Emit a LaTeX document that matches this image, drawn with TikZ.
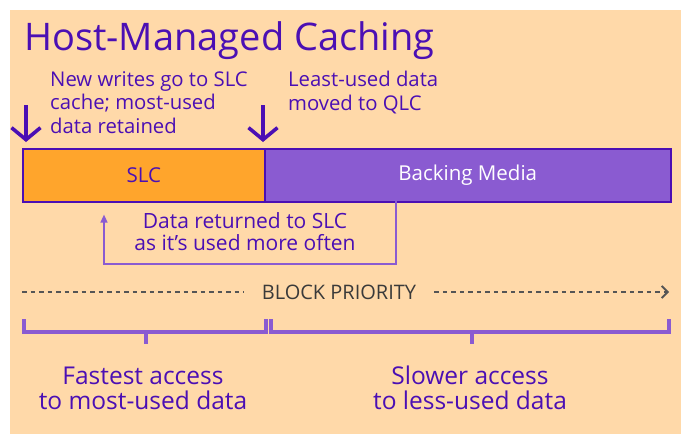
\documentclass[tikz,border=0pt]{standalone}
\usepackage{fontspec}
\setmainfont{Open Sans}
\usetikzlibrary{arrows.meta}
\definecolor{peach}{HTML}{FFD9A9}
\definecolor{indigo}{HTML}{4B0FB4}
\definecolor{lavender}{HTML}{8A5BD1}
\definecolor{amber}{HTML}{FFA52C}
\definecolor{slate}{HTML}{3A3A3A}
\definecolor{ash}{HTML}{555555}

\tikzset{
  note/.style={text=indigo, font=\fontsize{20.3}{23.5}\selectfont, align=left, inner sep=0pt, anchor=north west},
  caption/.style={text=indigo, font=\fontsize{24.5}{25}\selectfont, align=center, inner sep=0pt},
  tier/.style={draw=indigo, line width=1.6pt, minimum height=53, inner sep=0pt, anchor=north west, font=\fontsize{20.5}{22}\selectfont},
  downarrow/.style={indigo, line width=3.6pt, -{Straight Barb[length=12pt, width=29pt, line width=3.6pt]}},
  returnarrow/.style={lavender, line width=1.5pt, -{Triangle[length=8pt, width=7pt]}},
  prioline/.style={ash, line width=1.6pt, dash pattern=on 4.5pt off 4pt},
  brace/.style={lavender, line width=4.5pt, line cap=butt, line join=miter}
}

\begin{document}
\begin{tikzpicture}[x=1pt, y=-1pt]
		\useasboundingbox (0,0) rectangle (681,434);
		\fill[peach] (10,10) rectangle (681,434);
		\node[text=indigo, font=\fontsize{38}{40}\selectfont, anchor=base west, inner sep=0pt] (title) at (24,50) {Host-Managed Caching};
		% notes above the bar
		\node[note] (newwrites) at (50,71) {New writes go to SLC\\cache; most-used\\data retained};
		\node[note] (leastused) at (288,71) {Least-used data\\moved to QLC};
		% the two tiers
		\node[tier, fill=amber, text=indigo, minimum width=242] (slc) at (22,148) {SLC};
		\node[tier, fill=lavender, text=white, minimum width=406] (backing) at (264,148) {Backing Media};
		\coordinate (w1) at (26,105);
		\coordinate (w2) at (263,105);
		\draw[downarrow, shorten >=6pt] (w1) -- (w1 |- slc.north);
		\draw[downarrow, shorten >=6pt] (w2) -- (w2 |- slc.north);
		% data coming back
		\node[caption, font=\fontsize{21}{22}\selectfont] (returned) at (245,232) {Data returned to SLC\\as it’s used more often};
		\coordinate (retstart) at (396,201);
		\coordinate (turn) at (104,264);
		\draw[returnarrow, shorten >=12pt] (retstart) |- (turn) -- (turn |- slc.south);
		% block priority
		\node[text=slate, font=\fontsize{20}{20}\selectfont, inner sep=0pt] (prio) at (339,292) {BLOCK PRIORITY};
		\coordinate (pl) at (22,292);
		\coordinate (pr) at (669,292);
		\draw[prioline] (pl) -- ([xshift=-18pt]prio.west);
		\draw[prioline, -{Straight Barb[length=6pt, width=12pt, line width=1.8pt]}] ([xshift=18pt]prio.east) -- (pr);
		% brackets
		\draw[brace] (24,319) -- (24,332) -- (266,332) -- (266,319);
		\draw[brace] (146,332) -- (146,344);
		\draw[brace] (271,319) -- (271,332) -- (669,332) -- (669,319);
		\draw[brace] (472,332) -- (472,344);
		\node[caption] (fastest) at (143,388) {Fastest access\\to most-used data};
		\node[caption] (slower) at (470,388) {Slower access\\to less-used data};
\end{tikzpicture}
\end{document}
